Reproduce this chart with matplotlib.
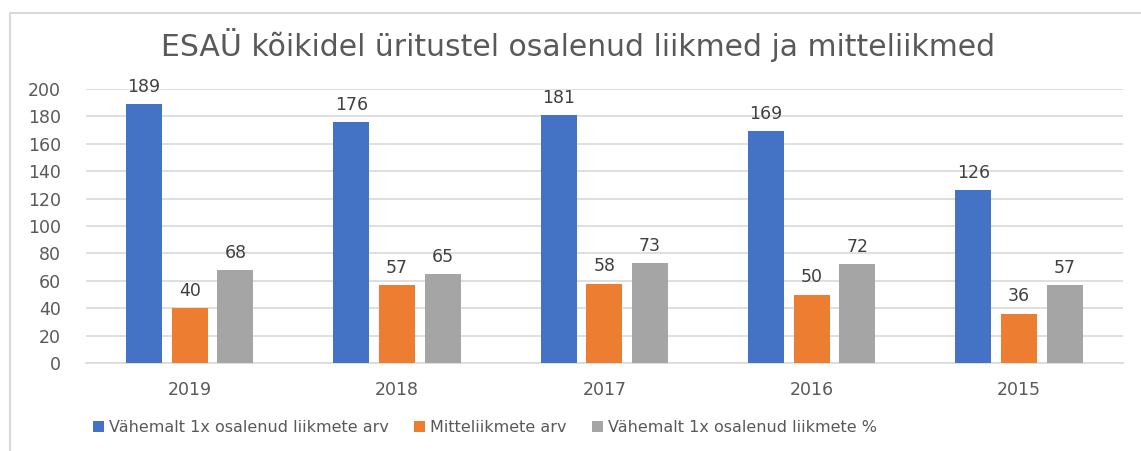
import numpy as np
import matplotlib.pyplot as plt
from matplotlib.patches import Rectangle

years = ["2019", "2018", "2017", "2016", "2015"]
osalenud = [189, 176, 181, 169, 126]
mitteliikmed = [40, 57, 58, 50, 36]
protsent = [68, 65, 73, 72, 57]

series_names = ["Vähemalt 1x osalenud liikmete arv", "Mitteliikmete arv",
                "Vähemalt 1x osalenud liikmete %"]
colors = ["#4472C4", "#ED7D31", "#A5A5A5"]
text_color = "#595959"

plt.rcParams['font.family'] = ['DejaVu Sans']

fig = plt.figure(figsize=(11.41, 4.51), dpi=100)
ax = fig.add_axes([0.0754, 0.195, 0.9086, 0.608])

# chart border (only left and top are visible in the crop)
fig.patches.append(Rectangle((10 / 1141, -0.1), 1.2, 1 - 13 / 451 + 0.1,
                             transform=fig.transFigure, fill=False,
                             edgecolor="#D9D9D9", linewidth=1.5))

x = np.arange(len(years))
width = 0.174
offset = 0.22
for i, (vals, col, name) in enumerate(zip([osalenud, mitteliikmed, protsent], colors, series_names)):
    bars = ax.bar(x + (i - 1) * offset, vals, width, color=col, label=name, zorder=3)
    for b, v in zip(bars, vals):
        ax.text(b.get_x() + b.get_width() / 2, v + 6, str(v), ha="center", va="bottom",
                fontsize=12.5, color="#404040", clip_on=False)

ax.set_xlim(-0.5, len(years) - 0.5)
ax.set_ylim(0, 200)
ax.set_yticks(range(0, 201, 20))
ax.set_xticks(x)
ax.set_xticklabels(years)
ax.yaxis.grid(True, color="#D9D9D9", linewidth=1.2, zorder=0)
ax.tick_params(axis="both", length=0, labelsize=12.5, colors=text_color)
ax.tick_params(axis="x", pad=13)
ax.tick_params(axis="y", pad=18)
for s in ["top", "right", "left"]:
    ax.spines[s].set_visible(False)
ax.spines["bottom"].set_color("#D9D9D9")
ax.spines["bottom"].set_linewidth(1.2)

fig.text(0.507, 0.9, "ESAÜ kõikidel üritustel osalenud liikmed ja mitteliikmed",
         ha="center", va="center", fontsize=21.5, color=text_color)

fig.legend(loc="center", bbox_to_anchor=(0.425, 0.051), ncol=3, frameon=False,
           fontsize=11.5, handlelength=0.7, handleheight=0.7, handletextpad=0.3,
           columnspacing=1.6, labelcolor=text_color)

fig.savefig("out.png", dpi=100)
